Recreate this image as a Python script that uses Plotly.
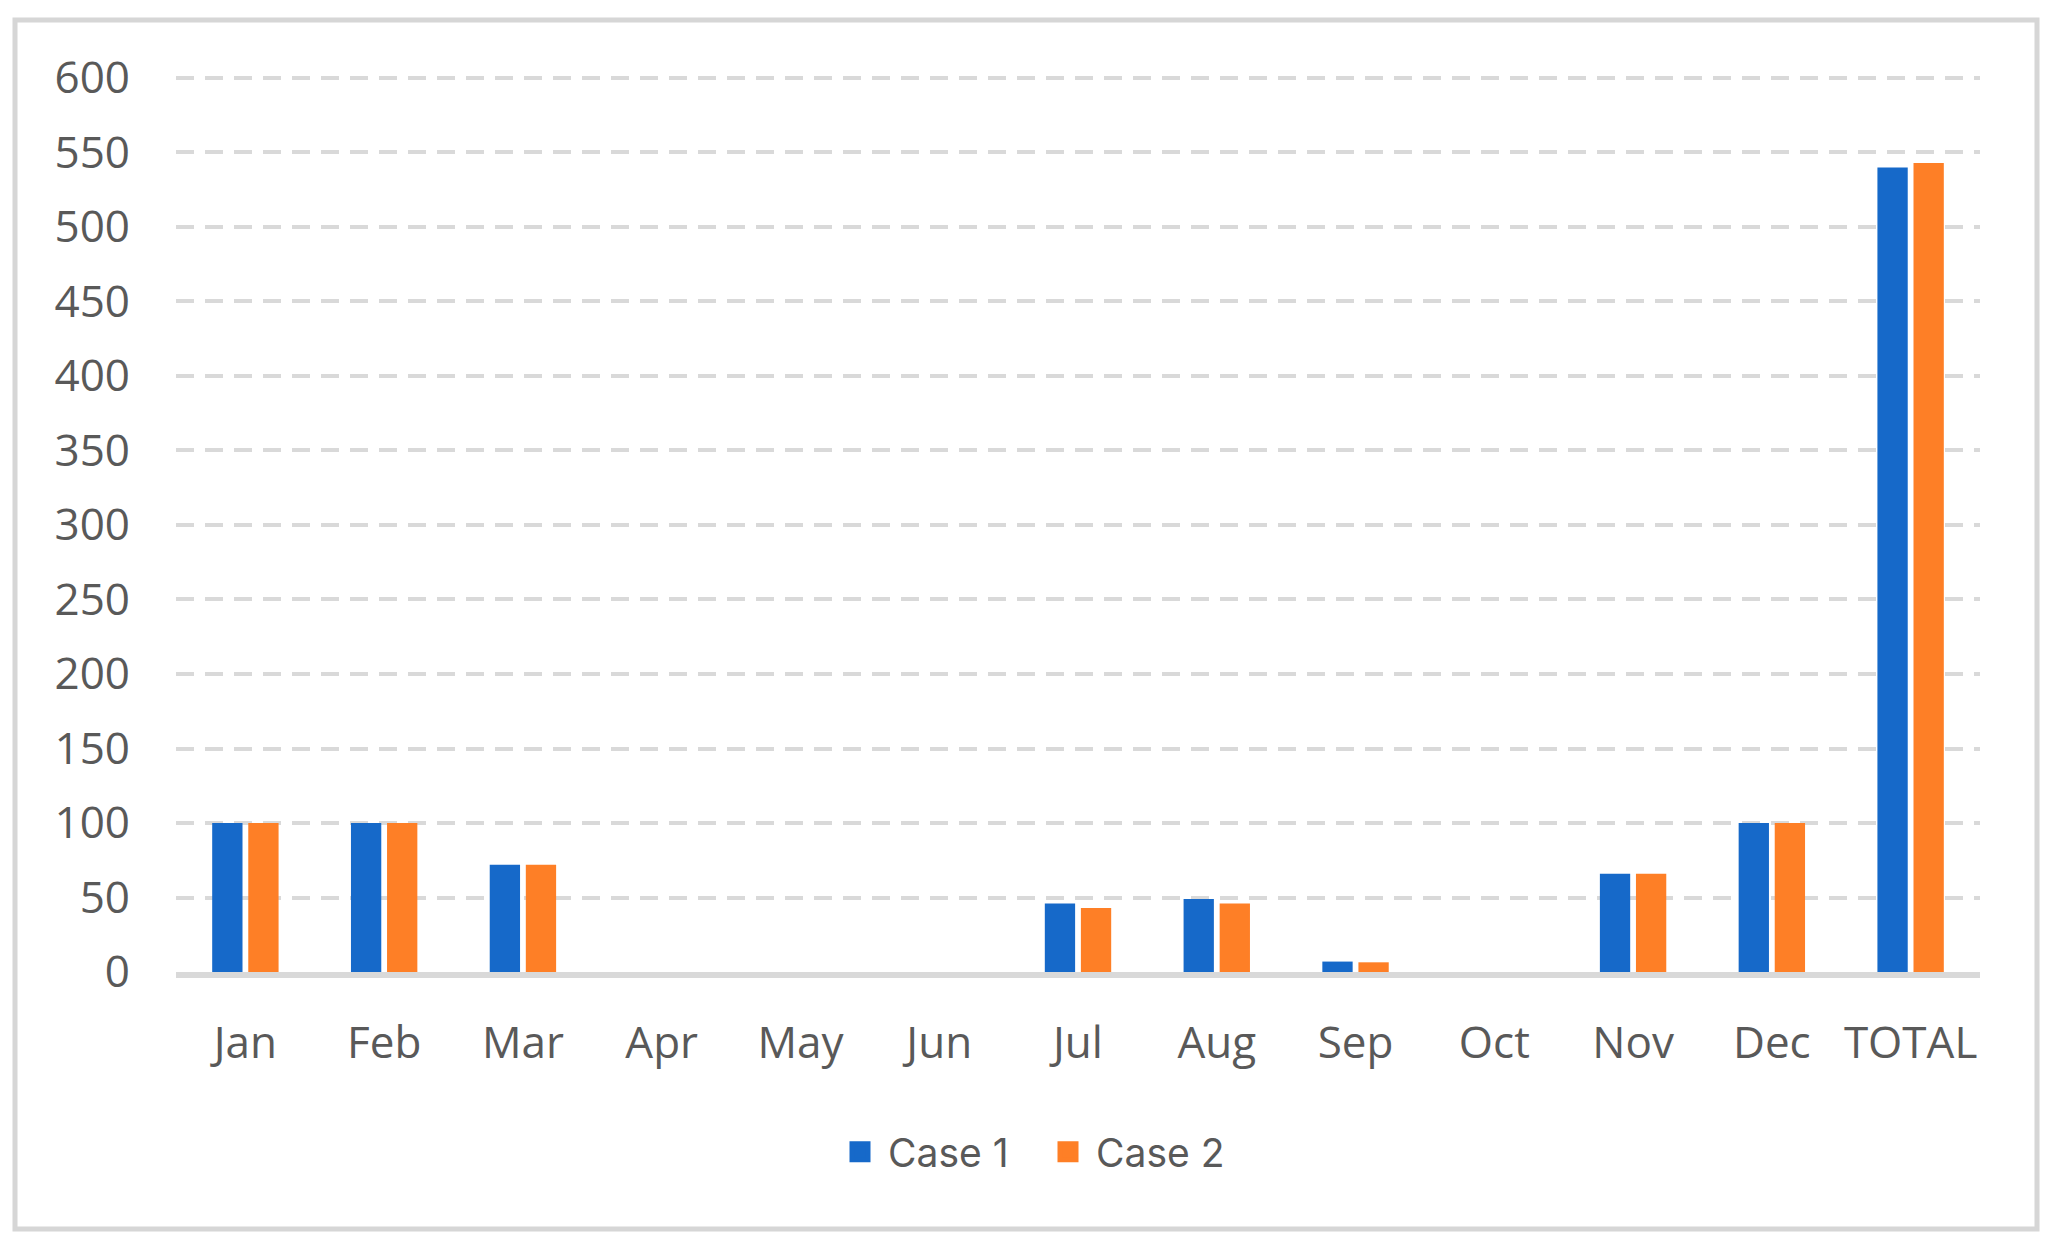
import plotly.graph_objects as go

categories = ["Jan", "Feb", "Mar", "Apr", "May", "Jun", "Jul", "Aug", "Sep", "Oct", "Nov", "Dec", "TOTAL"]
case1 = [100, 100, 72, 0, 0, 0, 46, 49, 7, 0, 66, 100, 540]
case2 = [100, 100, 72, 0, 0, 0, 43, 46, 6.5, 0, 66, 100, 543]
series_names = ["Case 1", "Case 2"]
y_ticks = [0, 50, 100, 150, 200, 250, 300, 350, 400, 450, 500, 550, 600]

BLUE = "#1669c9"
ORANGE = "#fe7f26"
GRID = "#d9d9d9"
TEXT = "#595959"

OFF = 8  # default page body margin
W, H = 2052, 1249
# target positions in the screenshot (px)
plot_left, plot_right = 176, 1980
y0_px, y600_px = 972, 78
y_top_val = 602
unit = (y0_px - y600_px) / 600.0
plot_top = y0_px - unit * y_top_val

L = plot_left - OFF
R = W - plot_right + OFF
T = plot_top - OFF
B = H - y0_px + OFF
pw, ph = W - L - R, H - T - B

def px_x(v):
    return (v - plot_left) / pw

def px_y(v):
    return (y0_px - v) / ph

fig = go.Figure()
for name, vals, col in [(series_names[0], case1, BLUE), (series_names[1], case2, ORANGE)]:
    fig.add_trace(go.Bar(x=categories, y=vals, name=name, marker=dict(color=col, line=dict(width=0)),
                         showlegend=False, legendgroup=name))
for name, col in [(series_names[0], BLUE), (series_names[1], ORANGE)]:
    fig.add_trace(go.Scatter(x=[None], y=[None], mode="markers", name=name, legendgroup=name,
                             marker=dict(symbol="square", size=16, color=col, line=dict(color=col, width=5))))

fig.update_layout(
    width=W, height=H,
    margin=dict(l=L, r=R, t=T, b=B, pad=0),
    paper_bgcolor="white", plot_bgcolor="white",
    barmode="group", bargap=0.48, bargroupgap=0.16,
    font=dict(family="Open Sans", size=44, color=TEXT),
    showlegend=True,
    legend=dict(orientation="h", x=px_x(1040), xanchor="center", y=px_y(1152), yanchor="middle",
                font=dict(family="Inter", size=39, color=TEXT), itemwidth=46, entrywidth=147,
                bgcolor="rgba(0,0,0,0)"),
    xaxis=dict(type="category", showgrid=False, showline=True, linecolor=GRID, linewidth=6,
               ticks="", ticklabelstandoff=27, tickfont=dict(family="Open Sans", size=44, color=TEXT),
               zeroline=False, fixedrange=True),
    yaxis=dict(range=[0, y_top_val], tickvals=y_ticks, showgrid=True, gridcolor=GRID, gridwidth=4,
               griddash="18px,11px", zeroline=False, showline=False, ticks="",
               ticklabelstandoff=45, tickfont=dict(family="Open Sans", size=44, color=TEXT)),
    shapes=[dict(type="rect", xref="paper", yref="paper",
                 x0=px_x(15), x1=px_x(2037), y0=px_y(1229), y1=px_y(20),
                 line=dict(color="#d6d6d6", width=5), fillcolor="rgba(0,0,0,0)", layer="below")],
)

fig.write_html("out.html")
